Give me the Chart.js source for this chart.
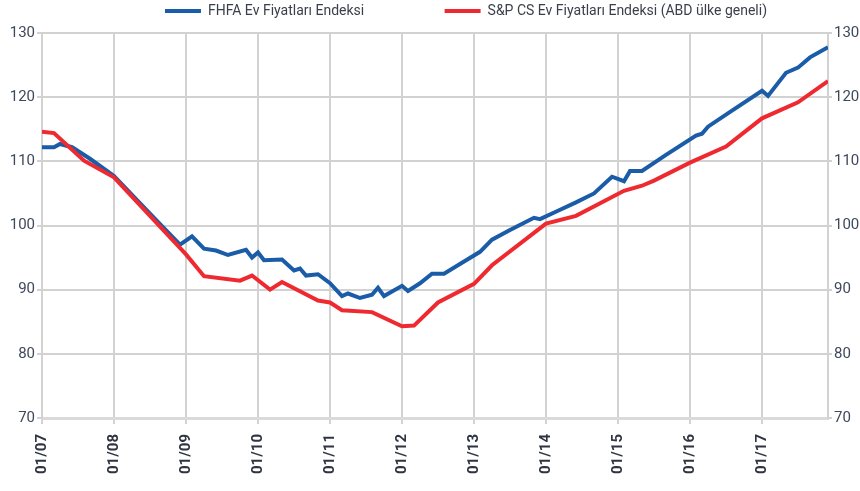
<!DOCTYPE html>
<html>
<head>
<meta charset="utf-8">
<script src="https://cdn.jsdelivr.net/npm/chart.js@4/dist/chart.umd.min.js"></script>
<style>
  body { margin: 0; background: #fff; }
  #wrap { width: 860px; height: 491px; }
</style>
</head>
<body>
<div id="wrap"><canvas id="ev-chart" width="860" height="491"></canvas></div>
<script>
// months counted from 01/2007
const fhfaMonths = [0, 2, 3, 5, 8, 12, 16, 20, 23, 25, 27, 29, 31, 34, 35, 36, 37, 40, 42, 43, 44, 46, 48, 50, 51, 53, 55, 56, 57, 60, 61, 63, 65, 67, 70, 73, 75, 78, 82, 83, 86, 89, 92, 95, 97, 98, 100, 104, 109, 110, 111, 115, 120, 121, 124, 126, 128, 131];
const fhfaValues = [112.2, 112.2, 112.7, 112.2, 110.4, 107.7, 103.8, 99.9, 97.0, 98.3, 96.4, 96.1, 95.4, 96.2, 95.0, 95.8, 94.6, 94.7, 93.0, 93.3, 92.2, 92.4, 91.0, 89.0, 89.4, 88.7, 89.2, 90.3, 89.0, 90.6, 89.8, 91.0, 92.5, 92.5, 94.2, 95.9, 97.8, 99.3, 101.2, 101.0, 102.3, 103.6, 105.0, 107.6, 106.9, 108.5, 108.5, 111.0, 114.0, 114.3, 115.4, 117.9, 121.0, 120.2, 123.8, 124.6, 126.2, 127.8];

const spMonths = [0, 2, 7, 12, 24, 27, 33, 35, 38, 40, 46, 48, 50, 55, 60, 62, 66, 72, 75, 84, 89, 97, 100, 102, 108, 114, 120, 126, 131];
const spValues = [114.6, 114.4, 110.1, 107.5, 95.5, 92.1, 91.4, 92.2, 90.0, 91.2, 88.3, 88.0, 86.8, 86.5, 84.3, 84.4, 88.0, 90.9, 93.8, 100.3, 101.5, 105.4, 106.2, 107.0, 109.8, 112.3, 116.7, 119.2, 122.5];

const seriesNames = ["FHFA Ev Fiyatları Endeksi", "S&P CS Ev Fiyatları Endeksi (ABD ülke geneli)"];
const yTicks = [70, 80, 90, 100, 110, 120, 130];

const blue = "#1a5ca8";
const red = "#ee2a30";
const gridColor = "#d2d2d2";

const toPoints = (months, values) => months.map((m, i) => ({ x: m, y: values[i] }));

// nudge legend into place
const legendShift = {
  id: "legendShift",
  afterLayout(chart) {
    const lg = chart.legend;
    if (!lg) return;
    lg.left += 36;
    lg.right += 36;
    lg.top -= 5;
    lg.bottom -= 5;
  },
};

new Chart(document.getElementById("ev-chart"), {
  type: "line",
  data: {
    datasets: [
      {
        label: seriesNames[0],
        data: toPoints(fhfaMonths, fhfaValues),
        borderColor: blue,
        backgroundColor: blue,
        borderWidth: 4,
        pointRadius: 0,
        tension: 0,
        order: 1,
      },
      {
        label: seriesNames[1],
        data: toPoints(spMonths, spValues),
        borderColor: red,
        backgroundColor: red,
        borderWidth: 4,
        pointRadius: 0,
        tension: 0,
        order: 0,
      },
    ],
  },
  options: {
    responsive: false,
    animation: false,
    layout: { padding: 0 },
    plugins: {
      tooltip: { enabled: false },
      legend: {
        position: "top",
        labels: {
          usePointStyle: true,
          pointStyle: "line",
          pointStyleWidth: 36,
          padding: 9,
          color: "#3a3f4a",
          font: { family: "Roboto", size: 14 },
          sort: (a, b) => a.datasetIndex - b.datasetIndex,
          generateLabels: (chart) => {
            const items = Chart.defaults.plugins.legend.labels.generateLabels(chart);
            items.forEach((it) => {
              if (it.datasetIndex === 0) it.text = it.text + "\u2003\u2003\u2003\u2003\u2003";
            });
            return items;
          },
        },
      },
    },
    scales: {
      x: {
        type: "linear",
        min: 0,
        max: 131,
        afterFit: (scale) => { scale.height = 73; },
        grid: { color: gridColor, lineWidth: 2, tickLength: 6 },
        border: { color: "#dadada", width: 3 },
        ticks: {
          stepSize: 12,
          includeBounds: false,
          autoSkip: false,
          maxRotation: 90,
          minRotation: 90,
          padding: 10,
          color: "#2f3540",
          font: { family: "Roboto", size: 15, weight: "bold" },
          callback: (v) => "01/" + String(7 + v / 12).padStart(2, "0"),
        },
      },
      y: {
        position: "left",
        min: 70,
        max: 130,
        afterFit: (scale) => { scale.width = 42; },
        afterBuildTicks: (scale) => { scale.ticks = yTicks.map((v) => ({ value: v })); },
        grid: { color: gridColor, lineWidth: 2, tickLength: 5 },
        border: { color: gridColor, width: 2 },
        ticks: {
          padding: 2,
          color: "#3d4a5c",
          font: { family: "Roboto", size: 15 },
        },
      },
      y2: {
        position: "right",
        min: 70,
        max: 130,
        afterFit: (scale) => { scale.width = 32; },
        afterBuildTicks: (scale) => { scale.ticks = yTicks.map((v) => ({ value: v })); },
        grid: { drawOnChartArea: false, color: gridColor, lineWidth: 2, tickLength: 4 },
        border: { color: gridColor, width: 2 },
        ticks: {
          padding: 2,
          color: "#3d4a5c",
          font: { family: "Roboto", size: 15 },
        },
      },
    },
  },
  plugins: [legendShift],
});
</script>
</body>
</html>
